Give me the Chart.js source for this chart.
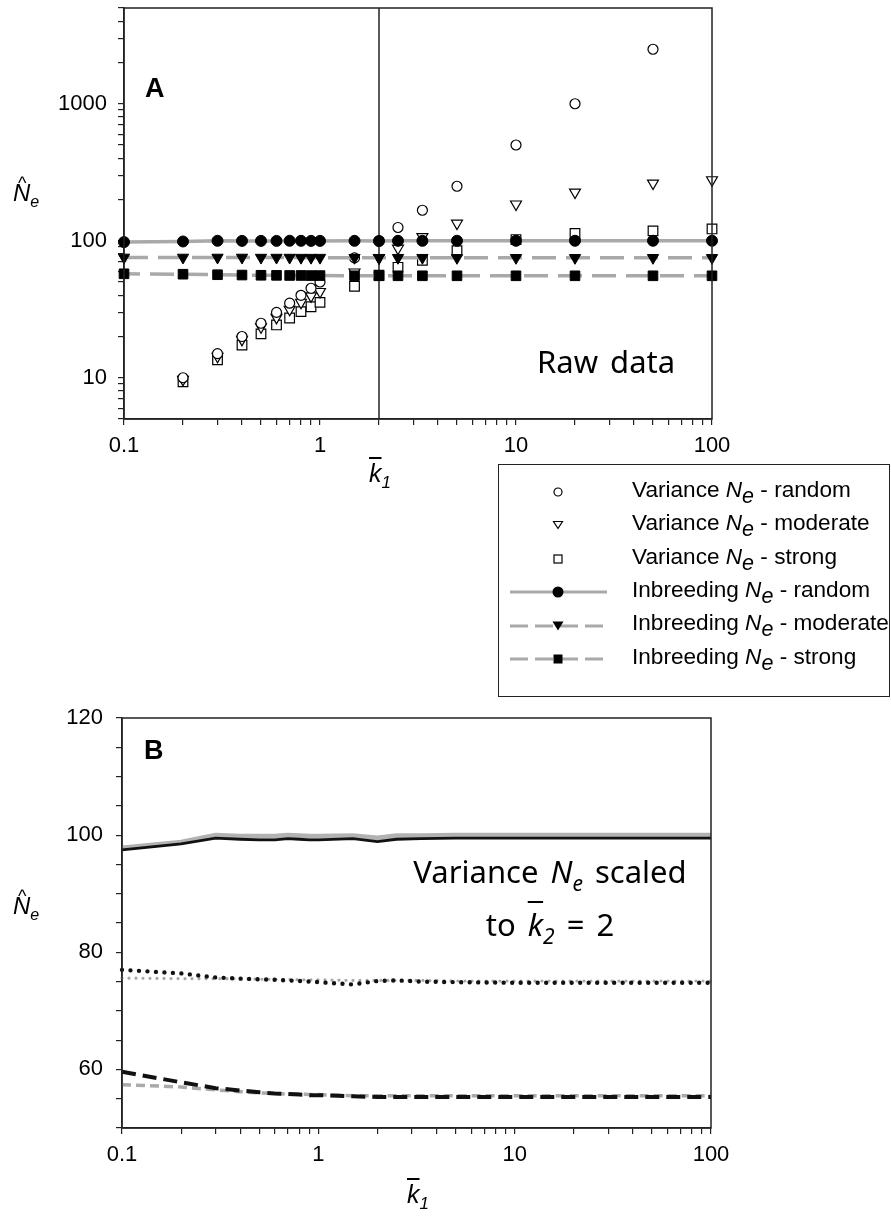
<!DOCTYPE html>
<html lang="en">
<head>
  <meta charset="UTF-8">
  <title>Ne estimates against mean family size</title>
  <script src="https://cdn.jsdelivr.net/npm/chart.js"></script>
  <style>
    body {
      margin: 0;
      width: 891px;
      height: 1216px;
      position: relative;
      overflow: hidden;
      background: #fff;
      color: #000;
      font-family: 'Liberation Sans', Arial, sans-serif;
    }
    canvas { position: absolute; left: 0; }
    #chartA { top: -20px; }
    #chartB { top: 690px; }

    .lbl { position: absolute; line-height: 1; white-space: nowrap; }
    .panel { font-weight: bold; font-size: 27px; }
    .note { font-family: 'Noto Sans', sans-serif; font-size: 31px; word-spacing: 4px; }
    .note sub { font-size: 21px; vertical-align: -8px; line-height: 0; }

    /* axis titles */
    .ytitle { font-size: 24px; font-style: italic; }
    .ytitle .hat { position: relative; display: inline-block; }
    .ytitle .caret { position: absolute; left: 5px; top: -7px; font-style: normal; font-size: 18px; }
    .ytitle sub { font-size: 16px; vertical-align: -6px; line-height: 0; }
    .xtitle { font-size: 25px; font-style: italic; }
    .xtitle sub { font-size: 17px; vertical-align: -6px; line-height: 0; }
    .bar { text-decoration: overline; text-decoration-thickness: 2px; }

    /* legend */
    #legend {
      position: absolute;
      left: 498px; top: 464px;
      width: 392px; height: 233px;
      box-sizing: border-box;
      border: 1.5px solid #222;
    }
    .legtext { position: absolute; left: 632px; font-size: 22.6px; line-height: 1; white-space: nowrap; }
    .legtext sub { font-size: 21.5px; font-style: italic; vertical-align: -6px; line-height: 0; }
    .legsym { position: absolute; left: 508px; }
  </style>
</head>
<body>

  <canvas id="chartA" width="891" height="480"></canvas>
  <canvas id="chartB" width="891" height="526"></canvas>

  <!-- panel letters and notes -->
  <div class="lbl panel" style="left:145px; top:75px;">A</div>
  <div class="lbl panel" style="left:144px; top:737px;">B</div>
  <div class="lbl note" style="left:537px; top:346px;">Raw data</div>
  <div class="lbl note" style="left:405px; width:290px; text-align:center; top:856px;">Variance <i>N</i><sub><i>e</i></sub> scaled</div>
  <div class="lbl note" style="left:405px; width:290px; text-align:center; top:909px;">to <span class="bar"><i>k</i></span><sub><i>2</i></sub> = 2</div>

  <!-- axis titles -->
  <div class="lbl ytitle" style="left:13px; top:181px;"><span class="hat"><i>N</i><span class="caret">^</span></span><sub>e</sub></div>
  <div class="lbl ytitle" style="left:13px; top:894px;"><span class="hat"><i>N</i><span class="caret">^</span></span><sub>e</sub></div>
  <div class="lbl xtitle" style="left:369px; top:461px;"><span class="bar">k</span><sub>1</sub></div>
  <div class="lbl xtitle" style="left:407px; top:1182px;"><span class="bar">k</span><sub>1</sub></div>

  <div id="legend"></div>

  <script>
    // mean number of offspring in generation 1 (x values)
    const kBar = [0.1, 0.2, 0.3, 0.4, 0.5, 0.6, 0.7, 0.8, 0.9, 1, 1.5, 2, 2.5, 3.33, 5, 10, 20, 50, 100];

    // Panel A - variance Ne, raw
    const varRandom   = [null, 10, 15, 20, 25, 30, 35, 40, 45, 50, 75, 100, 125, 167, 250, 500, 1000, 2500, null];
    const varModerate = [null, 9.7, 14.3, 19, 23.5, 27.5, 31.5, 35.5, 39.5, 42.5, 59, 75, 88, 107, 134, 185, 226, 263, 278];
    const varStrong   = [null, 9.35, 13.5, 17.3, 20.9, 24.3, 27.3, 30.4, 33, 35.5, 46.5, 56, 64, 72, 84.5, 102, 113, 118, 122];

    // Inbreeding Ne (panel A points, panel B grey lines)
    const inbRandom   = [97.8, 98.8, 100, 99.8, 99.8, 99.8, 100, 99.9, 99.8, 99.8, 99.9, 99.5, 99.9, 99.9, 100, 100, 100, 100, 100];
    const inbModerate = [75.6, 75.5, 75.5, 75.5, 75.4, 75.4, 75.4, 75.3, 75.3, 75.3, 75.2, 75.2, 75.2, 75.2, 75.1, 75.1, 75.1, 75.1, 75.1];
    const inbStrong   = [57.4, 57.0, 56.5, 56.2, 56.0, 55.9, 55.8, 55.8, 55.7, 55.7, 55.5, 55.5, 55.5, 55.5, 55.5, 55.5, 55.5, 55.5, 55.5];

    // Panel B - variance Ne scaled to k2 = 2 (black lines)
    const scaledRandom   = [97.5, 98.5, 99.5, 99.3, 99.2, 99.2, 99.4, 99.3, 99.2, 99.2, 99.4, 98.9, 99.3, 99.4, 99.5, 99.5, 99.5, 99.5, 99.5];
    const scaledModerate = [77, 76.4, 75.7, 75.5, 75.4, 75.3, 75.2, 75.1, 75.0, 74.9, 74.5, 75.1, 75.2, 75.0, 74.9, 74.8, 74.8, 74.8, 74.8];
    const scaledStrong   = [59.6, 57.8, 56.8, 56.4, 56.1, 55.9, 55.8, 55.7, 55.6, 55.6, 55.4, 55.3, 55.3, 55.3, 55.3, 55.3, 55.3, 55.3, 55.3];

    const refK = 2;  // vertical line in panel A
    const legendNames = [
      ['Variance', 'random'], ['Variance', 'moderate'], ['Variance', 'strong'],
      ['Inbreeding', 'random'], ['Inbreeding', 'moderate'], ['Inbreeding', 'strong']
    ];

    const FONT = "'Liberation Sans', Arial, sans-serif";
    const AXIS = '#222';
    const GREY = '#a9a9a9';

    function pts(arr) {
      return kBar.map((x, i) => ({ x: x, y: arr[i] })).filter(p => p.y !== null);
    }

    // log ticks 1..9 x 10^n between min and max
    function logTicks(min, max) {
      const out = [];
      for (let e = Math.floor(Math.log10(min)); e <= Math.ceil(Math.log10(max)); e++) {
        for (let m = 1; m <= 9; m++) {
          const v = Number((m * Math.pow(10, e)).toPrecision(3));
          if (v >= min - 1e-9 && v <= max + 1e-9) out.push({ value: v });
        }
      }
      return out;
    }
    function isDecade(v) {
      const l = Math.log10(v);
      return Math.abs(l - Math.round(l)) < 1e-9;
    }

    // box around the plot + reference line
    const framePlugin = {
      id: 'frame',
      beforeDatasetsDraw(chart, args, opts) {
        if (opts.refX == null) return;
        const { ctx, chartArea: a } = chart;
        const x = chart.scales.x.getPixelForValue(opts.refX);
        ctx.save();
        ctx.strokeStyle = AXIS;
        ctx.lineWidth = 1.5;
        ctx.beginPath();
        ctx.moveTo(x, a.top);
        ctx.lineTo(x, a.bottom);
        ctx.stroke();
        ctx.restore();
      },
      afterDraw(chart) {
        const { ctx, chartArea: a } = chart;
        ctx.save();
        ctx.strokeStyle = AXIS;
        ctx.lineWidth = 1.5;
        ctx.strokeRect(a.left, a.top, a.right - a.left, a.bottom - a.top);
        ctx.restore();
      }
    };

    function tickOpts(pad, cb) {
      return {
        autoSkip: false,
        maxRotation: 0,
        padding: pad,
        color: '#000',
        font: { family: FONT, size: 22 },
        callback: cb
      };
    }
    const gridOpts = { display: true, drawOnChartArea: false, drawTicks: true, tickLength: 6, color: AXIS, lineWidth: 1.2 };
    const borderOpts = { display: true, color: AXIS, width: 1.5 };

    function xLogAxis(height) {
      return {
        type: 'logarithmic',
        min: 0.1,
        max: 100,
        afterBuildTicks: s => { s.ticks = logTicks(0.1, 100); },
        afterFit: s => { s.height = height; },
        ticks: tickOpts(8, v => isDecade(v) ? String(v) : ''),
        grid: gridOpts,
        border: borderOpts
      };
    }

    // ---------- Panel A ----------
    new Chart(document.getElementById('chartA'), {
      type: 'scatter',
      data: {
        datasets: [
          {
            label: 'Inbreeding Ne - random', data: pts(inbRandom), showLine: true, order: 0,
            borderColor: GREY, borderWidth: 3.5,
            pointStyle: 'circle', pointRadius: 5.5,
            pointBackgroundColor: '#000', pointBorderColor: '#000', pointBorderWidth: 1
          },
          {
            label: 'Inbreeding Ne - moderate', data: pts(inbModerate), showLine: true, order: 0,
            borderColor: GREY, borderWidth: 3.5, borderDash: [24, 10],
            pointStyle: 'triangle', pointRotation: 180, pointRadius: 6.5,
            pointBackgroundColor: '#000', pointBorderColor: '#000', pointBorderWidth: 1
          },
          {
            label: 'Inbreeding Ne - strong', data: pts(inbStrong), showLine: true, order: 0,
            borderColor: GREY, borderWidth: 3.5, borderDash: [24, 10], borderDashOffset: 8,
            pointStyle: 'rect', pointRadius: 6.8,
            pointBackgroundColor: '#000', pointBorderColor: '#000', pointBorderWidth: 1
          },
          {
            label: 'Variance Ne - random', data: pts(varRandom), order: 1,
            pointStyle: 'circle', pointRadius: 5,
            pointBackgroundColor: '#fff', pointBorderColor: '#000', pointBorderWidth: 1.2
          },
          {
            label: 'Variance Ne - moderate', data: pts(varModerate), order: 1,
            pointStyle: 'triangle', pointRotation: 180, pointRadius: 6.3,
            pointBackgroundColor: '#fff', pointBorderColor: '#000', pointBorderWidth: 1.2
          },
          {
            label: 'Variance Ne - strong', data: pts(varStrong), order: 1,
            pointStyle: 'rect', pointRadius: 6.8,
            pointBackgroundColor: '#fff', pointBorderColor: '#000', pointBorderWidth: 1.2
          }
        ]
      },
      options: {
        responsive: false,
        animation: false,
        events: [],
        clip: false,
        layout: { padding: { left: 0, right: 179, top: 28, bottom: 0 } },
        plugins: { legend: { display: false }, tooltip: { enabled: false }, frame: { refX: refK } },
        scales: {
          x: xLogAxis(41),
          y: {
            type: 'logarithmic',
            min: 5,
            max: 5000,
            afterBuildTicks: s => { s.ticks = logTicks(5, 5000); },
            afterFit: s => { s.width = 124; },
            ticks: tickOpts(11, v => isDecade(v) ? String(v) : ''),
            grid: gridOpts,
            border: borderOpts
          }
        }
      },
      plugins: [framePlugin]
    });

    // ---------- Panel B ----------
    function lineSet(label, arr, color, width, dash, order, cap) {
      return {
        label: label, data: pts(arr), showLine: true, order: order,
        borderColor: color, borderWidth: width, borderDash: dash,
        borderCapStyle: cap || 'butt', pointRadius: 0, tension: 0
      };
    }

    new Chart(document.getElementById('chartB'), {
      type: 'scatter',
      data: {
        datasets: [
          lineSet('Variance Ne scaled - random', scaledRandom, '#111', 2.8, [], 0),
          lineSet('Variance Ne scaled - moderate', scaledModerate, '#111', 4.4, [0, 8.5], 0, 'round'),
          lineSet('Variance Ne scaled - strong', scaledStrong, '#111', 4, [14, 7], 0),
          lineSet('Inbreeding Ne - random', inbRandom, '#b2b2b2', 5, [], 1),
          lineSet('Inbreeding Ne - moderate', inbModerate, '#a8a8a8', 3.2, [0, 7], 1, 'round'),
          lineSet('Inbreeding Ne - strong', inbStrong, '#aaaaaa', 3.5, [9, 5], 1)
        ]
      },
      options: {
        responsive: false,
        animation: false,
        events: [],
        clip: false,
        layout: { padding: { left: 0, right: 180, top: 28, bottom: 0 } },
        plugins: { legend: { display: false }, tooltip: { enabled: false } },
        scales: {
          x: xLogAxis(88),
          y: {
            type: 'linear',
            min: 50,
            max: 120,
            afterFit: s => { s.width = 122; },
            ticks: Object.assign(tickOpts(13, v => v % 20 === 0 ? String(v) : ''), { stepSize: 5 }),
            grid: gridOpts,
            border: borderOpts
          }
        }
      },
      plugins: [framePlugin]
    });

    // ---------- Legend (html) ----------
    const symbols = [
      '<circle cx="50" cy="11" r="4" fill="#fff" stroke="#000" stroke-width="1.2"/>',
      '<polygon points="45.5,7.5 54.5,7.5 50,14.5" fill="#fff" stroke="#000" stroke-width="1.2"/>',
      '<rect x="46" y="7" width="8" height="8" fill="#fff" stroke="#000" stroke-width="1.2"/>',
      '<line x1="2" y1="11" x2="99" y2="11" stroke="' + GREY + '" stroke-width="3"/><circle cx="50" cy="11" r="5.5" fill="#000"/>',
      '<line x1="2" y1="11" x2="99" y2="11" stroke="' + GREY + '" stroke-width="3" stroke-dasharray="18 7"/><polygon points="44.5,6.5 55.5,6.5 50,15.5" fill="#000"/>',
      '<line x1="2" y1="11" x2="99" y2="11" stroke="' + GREY + '" stroke-width="3" stroke-dasharray="18 7"/><rect x="45.5" y="6.5" width="9" height="9" fill="#000"/>'
    ];
    let html = '';
    legendNames.forEach((n, i) => {
      const cy = 492 + 33.4 * i;
      const base = cy + 6;
      html += '<svg class="legsym" width="102" height="22" style="top:' + (cy - 11) + 'px">' + symbols[i] + '</svg>';
      html += '<div class="legtext" style="top:' + (base - 19.2) + 'px">' + n[0] +
              ' <i>N</i><sub>e</sub> - ' + n[1] + '</div>';
    });
    document.body.insertAdjacentHTML('beforeend', html);
  </script>
</body>
</html>
